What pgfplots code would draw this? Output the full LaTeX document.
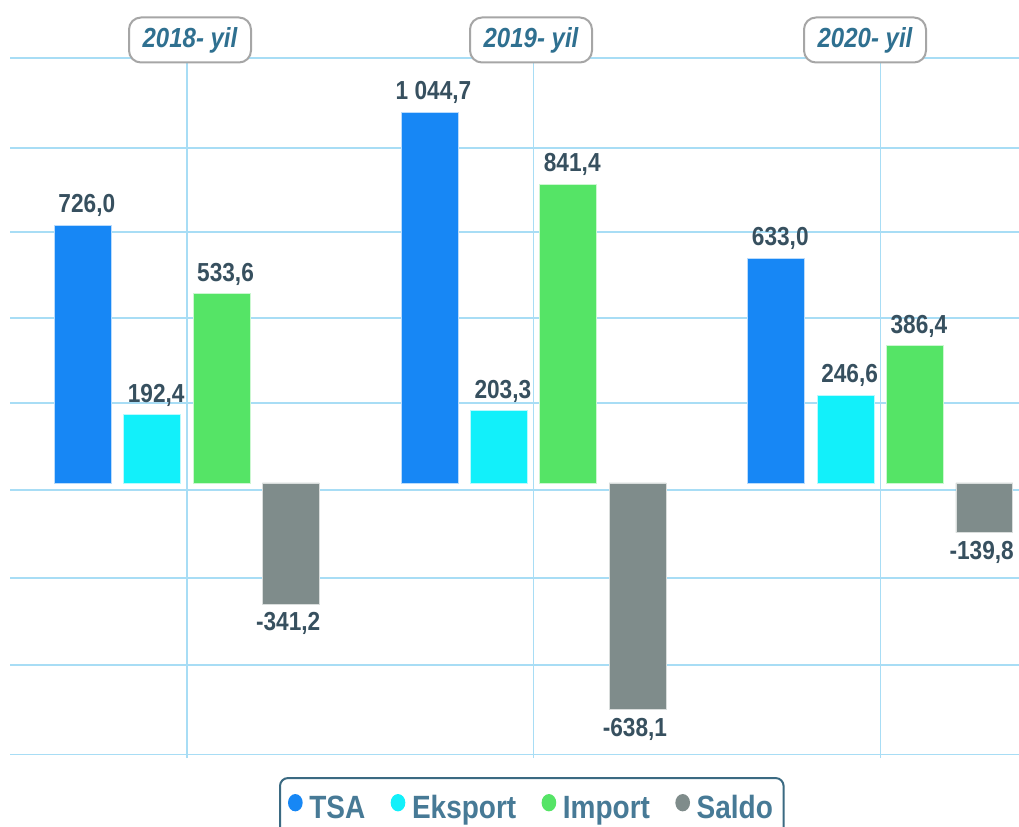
\documentclass[border=0pt]{standalone}
\usepackage{pgfplots}
\pgfplotsset{compat=1.18}
\usepackage{fontspec}
\setmainfont{Liberation Sans}
\definecolor{cTSA}{HTML}{1787F5}
\definecolor{cEks}{HTML}{12F0FA}
\definecolor{cImp}{HTML}{55E466}
\definecolor{cSal}{HTML}{7F8C8B}
\definecolor{gridc}{HTML}{A8DDF5}
\definecolor{lab}{HTML}{37505F}
\definecolor{ttl}{HTML}{2F7090}
\definecolor{legb}{HTML}{3B6A82}
\definecolor{legt}{HTML}{477A96}
\newcommand{\vs}[1]{\scalebox{1}[1.15]{#1}}
\pgfplotsset{
  mylegend/.style={legend image code/.code={\fill[##1,draw=none] (0pt,0.4em) ellipse[x radius=5.5pt, y radius=6.5pt];}},
}
\begin{document}
\begin{tikzpicture}
\useasboundingbox (0,0) rectangle (764.25pt,619.5pt);
\begin{axis}[
  at={(7.5pt,51pt)}, anchor=south west,
  width=756.75pt, height=538.5pt, scale only axis,
  xmin=-0.51, xmax=2.40, ymin=-775, ymax=1248,
  axis line style={draw=none}, tick style={draw=none},
  xtick={0,1,2}, xticklabels={}, 
  ytick={-766,-513,-268,-20,225,465,707,944,1197}, yticklabels={},
  xmajorgrids, ymajorgrids,
  major grid style={gridc, line width=1pt},
  bar width=0.164,
  point meta=explicit symbolic,
  nodes near coords={\vs{\pgfplotspointmeta}},
  nodes near coords style={font=\fontsize{17pt}{17pt}\selectfont\bfseries, text=lab, inner sep=6pt, xshift=3pt},
  clip=false,
  legend columns=4,
  legend style={at={(0.2666,-0.0265)}, anchor=north west, draw=legb, line width=1.5pt,
    rounded corners=6pt, font=\fontsize{21pt}{21pt}\selectfont\bfseries, text=legt,
    inner xsep=6pt, inner ysep=11pt,
    /tikz/every odd column/.append style={column sep=3pt},
    /tikz/every even column/.append style={column sep=17pt}},
]
\addplot[ybar, bar shift=0pt, fill=cTSA, draw=white!70!cTSA, line width=0.6pt, mylegend]
  coordinates {(-0.3,726.0) [726,0] (0.7,1044.7) [1 044,7] (1.7,633.0) [633,0]};
\addlegendentry{\vs{TSA}}
\addplot[ybar, bar shift=0pt, fill=cEks, draw=white!70!cEks, line width=0.6pt, mylegend]
  coordinates {(-0.1,192.4) [192,4] (0.9,203.3) [203,3] (1.9,246.6) [246,6]};
\addlegendentry{\vs{Eksport}}
\addplot[ybar, bar shift=0pt, fill=cImp, draw=white!70!cImp, line width=0.6pt, mylegend]
  coordinates {(0.1,533.6) [533,6] (1.1,841.4) [841,4] (2.1,386.4) [386,4]};
\addlegendentry{\vs{Import}}
\addplot[ybar, bar shift=0pt, fill=cSal, draw=white!70!cSal, line width=0.6pt, mylegend,
  nodes near coords style={anchor=north, xshift=-5pt}]
  coordinates {(0.3,-341.2) [-341,2] (1.3,-638.1) [-638,1] (2.3,-139.8) [-139,8]};
\addlegendentry{\vs{Saldo}}
\end{axis}
\foreach \cx/\t in {142.5/2018, 398.25/2019, 648.75/2020}{
  \node[draw=gray!70, line width=1.5pt, rounded corners=9pt, fill=white,
        minimum width=91.5pt, minimum height=33.75pt, inner sep=0pt,
        text=ttl, font=\fontsize{18pt}{18pt}\selectfont\bfseries\itshape]
        at (\cx pt,589.5pt) {\vs{\t- yil}};
}
\end{tikzpicture}
\end{document}
